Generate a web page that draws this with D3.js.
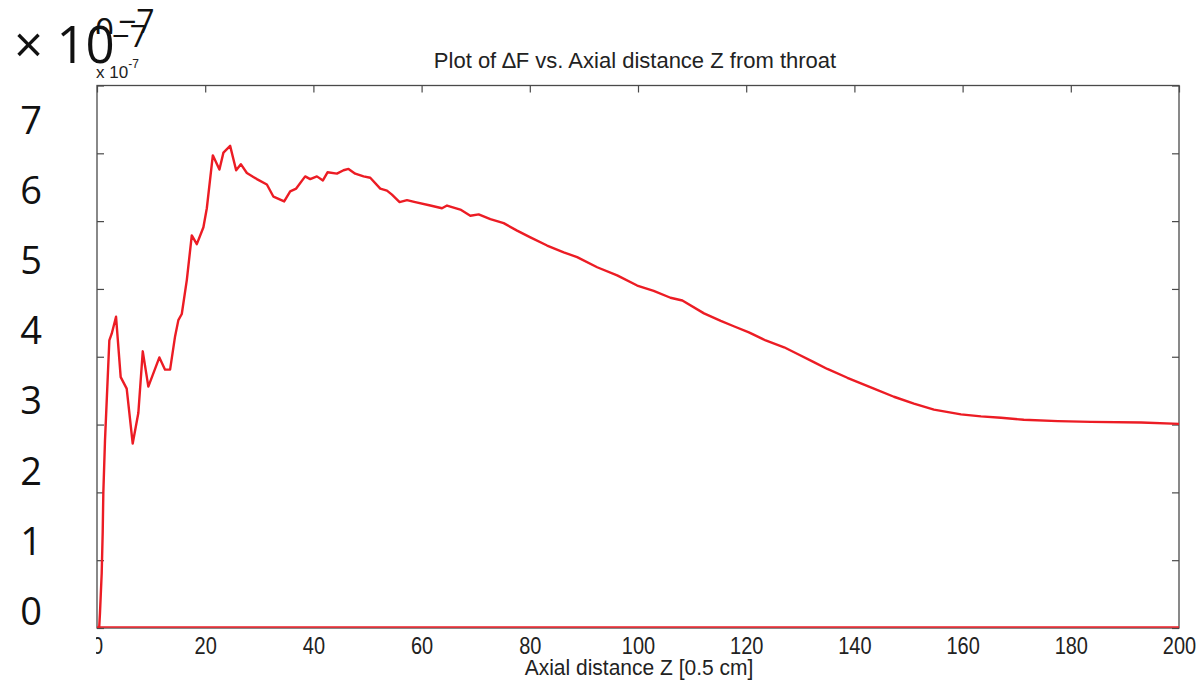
<!DOCTYPE html>
<html>
<head>
<meta charset="utf-8">
<script src="https://cdn.jsdelivr.net/npm/d3@7"></script>
<style>
  html, body { margin: 0; padding: 0; background: #fff; }
  svg { display: block; }
</style>
</head>
<body>
<svg id="chart" width="1199" height="683"></svg>
<script>
// ---- data (ΔF in units of 1e-7, Z in 0.5 cm steps) ----
const zValues = [0.4, 0.55, 0.87, 1.05, 1.17, 1.48, 2.28, 2.72, 3.52, 4.38, 5.49, 6.6, 7.64, 8.46, 9.49,
  11.53, 12.58, 13.51, 14.43, 15.04, 15.67, 16.6, 17.52, 18.45, 19.67, 20.3, 21.41, 22.63, 23.37, 24.61,
  25.72, 26.59, 27.7, 29.55, 31.4, 32.62, 34.6, 35.71, 36.82, 38.48, 39.41, 40.65, 41.76, 42.61, 44.35,
  45.57, 46.49, 47.73, 49.27, 50.51, 52.36, 53.6, 54.52, 55.93, 57.3, 58.83, 61.61, 63.77, 64.7, 67.16,
  69.01, 70.55, 72.71, 75.17, 77.65, 80.11, 83.2, 86.27, 88.75, 92.45, 96.15, 99.85, 102.9, 106.0, 108.2,
  112.2, 115.3, 117.7, 120.5, 123.6, 127.0, 129.5, 132.5, 135.0, 138.7, 143.6, 147.3, 151.0, 154.7, 159.7,
  163.4, 167.1, 171.3, 177.6, 183.7, 193.0, 200];
const dfValues = [0, 0.22, 0.81, 1.4, 1.99, 2.77, 4.24, 4.34, 4.59, 3.7, 3.53, 2.72, 3.17, 4.08, 3.56,
  3.99, 3.81, 3.81, 4.3, 4.54, 4.63, 5.13, 5.79, 5.66, 5.91, 6.19, 6.97, 6.76, 7.01, 7.11,
  6.75, 6.84, 6.71, 6.62, 6.54, 6.36, 6.29, 6.44, 6.48, 6.66, 6.62, 6.66, 6.6, 6.72, 6.7,
  6.75, 6.77, 6.7, 6.66, 6.64, 6.48, 6.45, 6.39, 6.28, 6.31, 6.28, 6.23, 6.19, 6.23, 6.17,
  6.08, 6.1, 6.03, 5.97, 5.86, 5.76, 5.64, 5.54, 5.47, 5.32, 5.2, 5.05, 4.97, 4.87, 4.83,
  4.64, 4.53, 4.45, 4.36, 4.24, 4.14, 4.04, 3.92, 3.82, 3.69, 3.53, 3.41, 3.31, 3.22, 3.15,
  3.12, 3.1, 3.07, 3.05, 3.04, 3.03, 3.01];
const zeroZ = [0, 200];
const zeroValues = [0, 0];
const xTicks = [0, 20, 40, 60, 80, 100, 120, 140, 160, 180, 200];
const yTicks = [0, 1, 2, 3, 4, 5, 6, 7, 8];
const bigYLabels = [0, 1, 2, 3, 4, 5, 6, 7];
const titleText = "Plot of \u2206F vs. Axial distance Z from throat";
const xLabelText = "Axial distance Z [0.5 cm]";

// ---- layout ----
const svg = d3.select("#chart");
const L = 97, R = 1179, T = 85.5, B = 628;
const axisColor = "#4a4a4a";
const lineColor = "#ec1c24";

const x = d3.scaleLinear().domain([0, 200]).range([L, R]);
const y = d3.scaleLinear().domain([0, 8]).range([B, T]);
const yBig = d3.scaleLinear().domain([0, 7]).range([611, 120.5]);

svg.append("rect").attr("width", 1199).attr("height", 683).attr("fill", "#fff");

const defs = svg.append("defs");
defs.append("clipPath").attr("id", "clipX")
  .append("rect").attr("x", 96).attr("y", 0).attr("width", 1199).attr("height", 683);
defs.append("clipPath").attr("id", "clipGhost")
  .append("rect").attr("x", 0).attr("y", 0).attr("width", 400).attr("height", 34);

// ---- axes (MATLAB box with inward ticks) ----
function styleAxis(g) {
  g.select(".domain").remove();
  g.selectAll(".tick line").attr("stroke", axisColor).attr("stroke-width", 1.2);
}
const gBottom = svg.append("g").attr("transform", `translate(0,${B})`).attr("clip-path", "url(#clipX)")
  .call(d3.axisBottom(x).tickValues(xTicks).tickSize(-7).tickSizeOuter(0).tickFormat(d3.format("d")))
  .call(styleAxis);
gBottom.selectAll(".tick text")
  .attr("y", 0).attr("dy", 0)
  .attr("transform", "translate(0,26) scale(1,1.16)")
  .attr("fill", "#222")
  .style("font-family", "'Liberation Sans', Arial, sans-serif")
  .style("font-size", "20px");

svg.append("g").attr("transform", `translate(0,${T})`)
  .call(d3.axisTop(x).tickValues(xTicks).tickSize(-7).tickSizeOuter(0).tickFormat(""))
  .call(styleAxis);
svg.append("g").attr("transform", `translate(${L},0)`)
  .call(d3.axisLeft(y).tickValues(yTicks).tickSize(-7).tickSizeOuter(0).tickFormat(""))
  .call(styleAxis);
svg.append("g").attr("transform", `translate(${R},0)`)
  .call(d3.axisRight(y).tickValues(yTicks).tickSize(-7).tickSizeOuter(0).tickFormat(""))
  .call(styleAxis);

// frame
svg.append("rect").attr("x", L).attr("y", T).attr("width", R - L).attr("height", B - T)
  .attr("fill", "none").attr("stroke", axisColor).attr("stroke-width", 1.3);

// ---- series ----
const line = d3.line().x(d => x(d[0])).y(d => y(d[1]));
svg.append("path")
  .datum(zeroZ.map((z, i) => [z, zeroValues[i]]))
  .attr("d", line).attr("transform", "translate(0,-1)")
  .attr("fill", "none").attr("stroke", lineColor).attr("stroke-width", 1.4);
svg.append("path")
  .datum(zValues.map((z, i) => [z, dfValues[i]]))
  .attr("d", line)
  .attr("fill", "none").attr("stroke", lineColor).attr("stroke-width", 2.4)
  .attr("stroke-linejoin", "round");

// ---- texts ----
svg.append("text")
  .attr("x", 635).attr("y", 68).attr("text-anchor", "middle")
  .attr("fill", "#222")
  .style("font-family", "'Liberation Sans', Arial, sans-serif").style("font-size", "22px")
  .text(titleText);

svg.append("text")
  .attr("transform", "translate(639,675) scale(1,1.08)").attr("text-anchor", "middle")
  .attr("fill", "#222")
  .style("font-family", "'Liberation Sans', Arial, sans-serif").style("font-size", "21px")
  .text(xLabelText);

// small MATLAB exponent label
const sm = svg.append("text").attr("x", 96).attr("y", 78).attr("fill", "#222")
  .style("font-family", "'Liberation Sans', Arial, sans-serif").style("font-size", "17px");
sm.append("tspan").text("x 10");
sm.append("tspan").attr("dy", -10).style("font-size", "12px").text("-7");

// large overlay y labels
svg.append("g").selectAll("text").data(bigYLabels).join("text")
  .attr("x", 31).attr("y", d => yBig(d)).attr("dy", "0.36em")
  .attr("text-anchor", "middle").attr("fill", "#111")
  .style("font-family", "'Open Sans', 'Noto Sans', sans-serif").style("font-size", "38px")
  .text(d => d);

// large overlay exponent "× 10^-7" (with doubled superscript)
svg.append("text").attr("x", 14).attr("y", 63).attr("fill", "#111")
  .style("font-family", "'Open Sans', 'Noto Sans', sans-serif").style("font-size", "51px")
  .text("\u00d7 10");
svg.append("text").attr("x", 95).attr("y", 42).attr("fill", "#111").attr("clip-path", "url(#clipGhost)")
  .style("font-family", "'Open Sans', 'Noto Sans', sans-serif").style("font-size", "33px")
  .text("0");
svg.append("text").attr("x", 118).attr("y", 33).attr("fill", "#111")
  .style("font-family", "'Open Sans', 'Noto Sans', sans-serif").style("font-size", "32px")
  .text("\u22127");
svg.append("text").attr("x", 112).attr("y", 47).attr("fill", "#111")
  .style("font-family", "'Open Sans', 'Noto Sans', sans-serif").style("font-size", "31px")
  .text("\u22127");
</script>
</body>
</html>
